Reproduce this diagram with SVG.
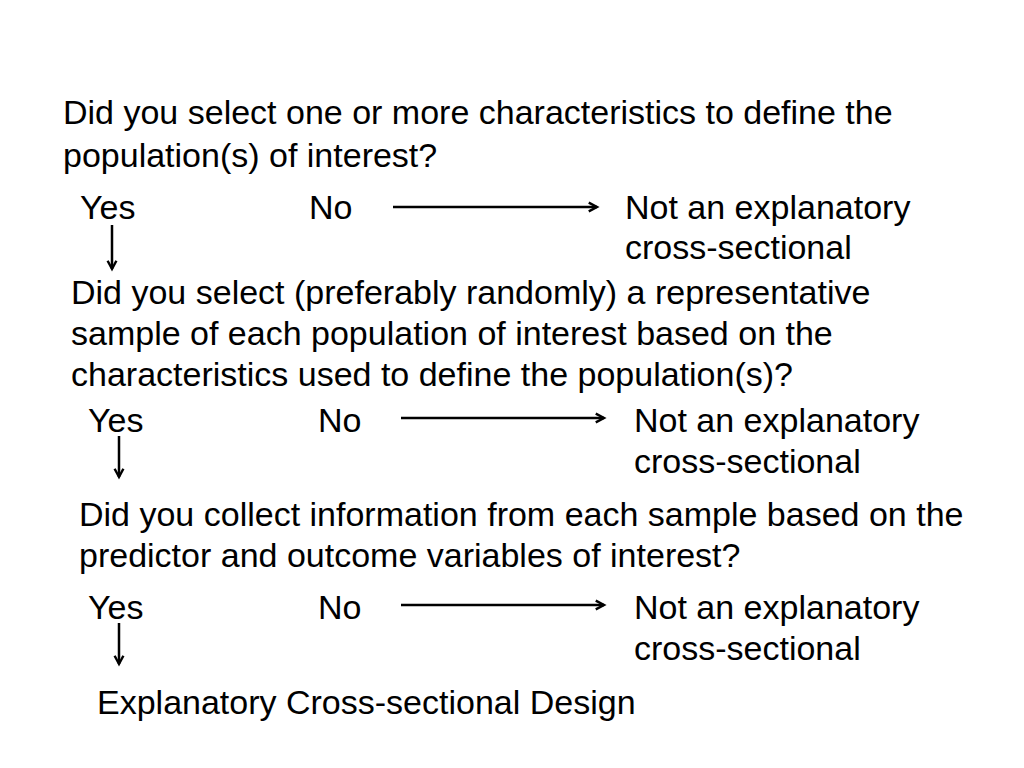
<svg xmlns="http://www.w3.org/2000/svg" width="1024" height="768" viewBox="0 0 1024 768">
<defs>
<style>
text{font-family:"Liberation Sans",Arial,sans-serif;font-size:34px;fill:#000}
.c{stroke:#000;stroke-width:2.5;fill:none}
</style>
<marker id="a" viewBox="0 0 10 10" refX="9" refY="5" markerWidth="11" markerHeight="11" markerUnits="userSpaceOnUse" orient="auto" overflow="visible">
<path d="M1.5,1 L9,5 L1.5,9" fill="none" stroke="#000" stroke-width="2.2"/>
</marker>
</defs>
<rect width="1024" height="768" fill="#fff"/>
<g id="q1">
<text x="63" y="124">Did you select one or more characteristics to define the</text>
<text x="63" y="167">population(s) of interest?</text>
</g>
<g id="yes1"><text x="80" y="219">Yes</text></g>
<g id="no1"><text x="309" y="219">No</text></g>
<g id="not1"><text x="625" y="219">Not an explanatory</text><text x="625" y="259">cross-sectional</text></g>
<g id="q2">
<text x="71" y="304">Did you select (preferably randomly) a representative</text>
<text x="71" y="345">sample of each population of interest based on the</text>
<text x="71" y="386">characteristics used to define the population(s)?</text>
</g>
<g id="yes2"><text x="88" y="432">Yes</text></g>
<g id="no2"><text x="318" y="432">No</text></g>
<g id="not2"><text x="634" y="432">Not an explanatory</text><text x="634" y="473">cross-sectional</text></g>
<g id="q3">
<text x="79" y="526">Did you collect information from each sample based on the</text>
<text x="79" y="567">predictor and outcome variables of interest?</text>
</g>
<g id="yes3"><text x="88" y="619">Yes</text></g>
<g id="no3"><text x="318" y="619">No</text></g>
<g id="not3"><text x="634" y="619">Not an explanatory</text><text x="634" y="660">cross-sectional</text></g>
<g id="result"><text x="97" y="714">Explanatory Cross-sectional Design</text></g>
<g id="connectors">
<line class="c" x1="393" y1="207" x2="597" y2="207" marker-end="url(#a)"/>
<line class="c" x1="112" y1="225" x2="112" y2="269" marker-end="url(#a)"/>
<line class="c" x1="401" y1="418" x2="604" y2="418" marker-end="url(#a)"/>
<line class="c" x1="119" y1="436" x2="119" y2="477" marker-end="url(#a)"/>
<line class="c" x1="401" y1="605" x2="604" y2="605" marker-end="url(#a)"/>
<line class="c" x1="119" y1="623" x2="119" y2="664" marker-end="url(#a)"/>
</g>
</svg>
